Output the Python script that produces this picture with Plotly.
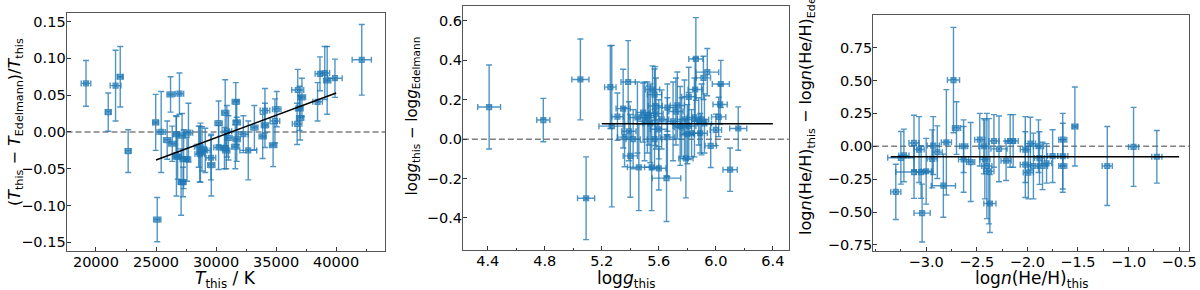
import plotly.graph_objects as go

# ---------------- Panel 1: Teff ----------------
teff_this = [19170, 21020, 21630, 22020, 22680, 24970, 25100, 25430, 25930, 26210,
             26350, 26680, 26700, 26950, 26800, 27090, 27250, 27300, 27580, 27170,
             27700, 28550, 28640, 28830, 28700, 29100, 29570, 29600, 30210, 30210,
             30700, 30760, 30900, 31030, 30850, 31640, 31720, 31720, 31600, 32270,
             32680, 33190, 33880, 34070, 34070, 34750, 34900, 35050, 36800, 36950,
             37000, 36750, 37150, 38450, 38650, 39050, 39250, 39900, 42130]
teff_rel_diff = [0.066, 0.027, 0.063, 0.075, -0.026, 0.013, -0.119, 0.000, -0.011, 0.051,
                 -0.016, -0.003, -0.033, 0.052, -0.034, -0.068, -0.068, -0.037, -0.037, -0.005,
                 -0.001, -0.020, -0.030, -0.023, -0.028, -0.025, -0.035, -0.045, 0.012, -0.021,
                 -0.022, 0.026, 0.001, -0.008, -0.025, 0.041, 0.013, -0.010, -0.020, -0.003,
                 -0.025, 0.006, -0.006, 0.029, 0.009, -0.018, 0.015, 0.031, 0.057, 0.032,
                 0.019, 0.011, 0.047, 0.041, 0.079, 0.080, 0.070, 0.073, 0.098]
teff_rel_err = [0.031, 0.026, 0.048, 0.041, 0.029, 0.038, 0.030, 0.055, 0.026, 0.024,
                0.024, 0.025, 0.054, 0.028, 0.030, 0.045, 0.020, 0.040, 0.030, 0.030,
                0.040, 0.028, 0.038, 0.030, 0.040, 0.030, 0.030, 0.042, 0.030, 0.030,
                0.028, 0.045, 0.035, 0.030, 0.025, 0.026, 0.030, 0.030, 0.030, 0.025,
                0.040, 0.030, 0.030, 0.030, 0.030, 0.029, 0.030, 0.024, 0.028, 0.030,
                0.030, 0.028, 0.026, 0.026, 0.023, 0.036, 0.046, 0.026, 0.048]
teff_err = [400, 250, 450, 250, 250, 250, 300, 350, 300, 300,
            300, 250, 300, 350, 300, 250, 250, 300, 300, 300,
            350, 350, 400, 350, 300, 400, 400, 300, 300, 400,
            300, 300, 400, 300, 300, 300, 300, 300, 300, 400,
            700, 300, 300, 400, 300, 300, 400, 350, 500, 300,
            300, 400, 300, 400, 400, 400, 300, 600, 800]
teff_fit_x = [25000, 40000]
teff_fit_y = [-0.038, 0.053]

# ---------------- Panel 2: log g ----------------
logg_this = [4.41, 4.79, 5.05, 5.09, 5.26, 5.27, 5.31, 5.35, 5.385, 5.39,
             5.36, 5.40, 5.46, 5.49, 5.52, 5.556, 5.55, 5.60, 5.57, 5.575,
             5.654, 5.73, 5.75, 5.79, 5.81, 5.81, 5.80, 5.855, 5.86, 5.913,
             5.94, 5.90, 5.964, 6.00, 6.02, 6.03, 6.035, 6.10, 6.157, 5.45,
             5.50, 5.53, 5.54, 5.58, 5.62, 5.66, 5.66, 5.70, 5.72, 5.76,
             5.78, 5.83, 5.85, 5.88, 5.89, 5.92, 5.57, 5.60, 5.42]
logg_diff = [0.163, 0.097, 0.303, -0.300, 0.264, 0.066, 0.114, 0.155, 0.290, 0.040,
             0.010, -0.085, -0.143, 0.135, 0.110, 0.252, -0.143, -0.148, 0.226, 0.168,
             -0.198, 0.171, 0.067, -0.098, 0.067, 0.215, 0.025, 0.252, 0.407, 0.311,
             0.340, 0.100, -0.034, 0.047, 0.113, 0.176, 0.280, -0.155, 0.054, 0.110,
             0.090, 0.120, 0.080, 0.130, 0.100, 0.160, 0.010, 0.090, 0.140, 0.060,
             0.100, 0.030, 0.110, 0.090, 0.030, 0.080, 0.000, 0.050, 0.000]
logg_diff_err = [0.213, 0.110, 0.205, 0.210, 0.210, 0.410, 0.120, 0.200, 0.210, 0.150,
                 0.150, 0.210, 0.220, 0.150, 0.180, 0.120, 0.220, 0.110, 0.130, 0.200,
                 0.220, 0.170, 0.200, 0.200, 0.170, 0.150, 0.150, 0.160, 0.210, 0.110,
                 0.120, 0.180, 0.110, 0.080, 0.100, 0.100, 0.120, 0.110, 0.110, 0.180,
                 0.200, 0.150, 0.200, 0.180, 0.150, 0.120, 0.200, 0.200, 0.170, 0.150,
                 0.200, 0.120, 0.200, 0.120, 0.100, 0.150, 0.150, 0.150, 0.150]
logg_err = [0.08, 0.046, 0.06, 0.06, 0.04, 0.09, 0.04, 0.05, 0.05, 0.05,
            0.05, 0.05, 0.08, 0.05, 0.05, 0.05, 0.05, 0.05, 0.05, 0.05,
            0.10, 0.05, 0.05, 0.05, 0.05, 0.05, 0.05, 0.05, 0.05, 0.05,
            0.08, 0.05, 0.04, 0.04, 0.05, 0.05, 0.06, 0.05, 0.06, 0.06,
            0.05, 0.05, 0.05, 0.05, 0.05, 0.06, 0.05, 0.05, 0.05, 0.05,
            0.05, 0.06, 0.05, 0.05, 0.05, 0.05, 0.05, 0.06, 0.05]
logg_fit_x = [5.2, 6.4]
logg_fit_y = [0.078, 0.078]

# ---------------- Panel 3: log n(He/H) ----------------
loghe_this = [-3.30, -3.25, -3.22, -3.12, -3.12, -3.07, -3.05, -3.04, -3.00, -2.94,
              -2.93, -2.89, -2.83, -2.80, -2.73, -2.70, -2.63, -2.63, -2.56, -2.47,
              -2.43, -2.42, -2.40, -2.37, -2.38, -2.33, -2.28, -2.21, -2.17, -2.14,
              -2.02, -2.02, -1.99, -1.97, -1.94, -1.89, -1.88, -1.85, -1.81, -1.75,
              -1.65, -1.65, -1.65, -1.53, -1.21, -0.95, -0.72]
loghe_diff = [-0.347, -0.088, -0.070, 0.025, -0.196, -0.025, -0.196, -0.508, -0.190, -0.096,
              0.005, -0.045, -0.300, 0.030, 0.503, 0.138, 0.000, -0.100, -0.120, 0.050,
              0.000, -0.100, -0.150, -0.435, -0.190, 0.040, -0.020, -0.110, 0.040, 0.040,
              -0.025, -0.140, -0.200, 0.020, -0.150, 0.000, -0.090, -0.150, -0.130, -0.075,
              0.050, -0.075, -0.150, 0.150, -0.150, -0.005, -0.080]
loghe_diff_err = [0.21, 0.20, 0.20, 0.21, 0.20, 0.25, 0.20, 0.22, 0.25, 0.22,
                  0.22, 0.20, 0.24, 0.40, 0.40, 0.20, 0.20, 0.25, 0.30, 0.20,
                  0.21, 0.30, 0.40, 0.22, 0.40, 0.20, 0.25, 0.15, 0.20, 0.20,
                  0.25, 0.25, 0.20, 0.20, 0.25, 0.20, 0.20, 0.18, 0.15, 0.20,
                  0.20, 0.25, 0.20, 0.30, 0.30, 0.30, 0.20]
loghe_err = [0.05, 0.13, 0.05, 0.05, 0.18, 0.05, 0.05, 0.08, 0.05, 0.05,
             0.06, 0.05, 0.12, 0.05, 0.06, 0.04, 0.04, 0.05, 0.04, 0.05,
             0.05, 0.05, 0.05, 0.06, 0.05, 0.05, 0.08, 0.05, 0.05, 0.05,
             0.05, 0.05, 0.05, 0.05, 0.05, 0.05, 0.05, 0.05, 0.05, 0.05,
             0.04, 0.05, 0.04, 0.03, 0.05, 0.05, 0.05]
loghe_fit_x = [-3.35, -0.5]
loghe_fit_y = [-0.08, -0.08]

# tick values
teff_ticks = [20000, 25000, 30000, 35000, 40000]
dteff_ticks = [-0.15, -0.10, -0.05, 0.00, 0.05, 0.10, 0.15]
logg_ticks = [4.4, 4.8, 5.2, 5.6, 6.0, 6.4]
dlogg_ticks = [-0.4, -0.2, 0.0, 0.2, 0.4, 0.6]
loghe_ticks = [-3.0, -2.5, -2.0, -1.5, -1.0, -0.5]
dloghe_ticks = [-0.75, -0.50, -0.25, 0.00, 0.25, 0.50, 0.75]

# ---------------- Styling ----------------
BLUE = "rgba(31,119,180,0.78)"
FONT = "DejaVu Sans"
W, H = 1200, 290


def px_x(p):
    return p / W


def px_y(p):
    return 1 - p / H


def err_trace(x, y, ey, ex, xa, ya):
    return go.Scatter(
        x=x, y=y, mode="markers", xaxis=xa, yaxis=ya, showlegend=False,
        marker=dict(symbol="square-x-open", size=5, color=BLUE, line=dict(width=1.2, color=BLUE)),
        error_y=dict(type="data", array=ey, visible=True, color=BLUE, thickness=1.4, width=3),
        error_x=dict(type="data", array=ex, visible=True, color=BLUE, thickness=1.4, width=3),
    )


def fit_trace(x, y, xa, ya):
    return go.Scatter(x=x, y=y, mode="lines", xaxis=xa, yaxis=ya, showlegend=False,
                      line=dict(color="black", width=1.6))


fig = go.Figure()
fig.add_trace(err_trace(teff_this, teff_rel_diff, teff_rel_err, teff_err, "x", "y"))
fig.add_trace(fit_trace(teff_fit_x, teff_fit_y, "x", "y"))
fig.add_trace(err_trace(logg_this, logg_diff, logg_diff_err, logg_err, "x2", "y2"))
fig.add_trace(fit_trace(logg_fit_x, logg_fit_y, "x2", "y2"))
fig.add_trace(err_trace(loghe_this, loghe_diff, loghe_diff_err, loghe_err, "x3", "y3"))
fig.add_trace(fit_trace(loghe_fit_x, loghe_fit_y, "x3", "y3"))

axis_common = dict(
    showline=True, linecolor="#555555", linewidth=1, mirror=True,
    ticks="inside", ticklen=4, tickwidth=1, tickcolor="#333333",
    showgrid=False, zeroline=False, ticklabeloverflow="allow",
    tickfont=dict(family=FONT, size=14.5, color="black"),
)

panels = [
    dict(xd=(67, 388), yd=(13, 253), xr=[17550, 44100], yr=[-0.162, 0.1617],
         xt=teff_ticks, yt=dteff_ticks, xf="d", yf=".2f", xm=2500),
    dict(xd=(466, 794), yd=(6, 252), xr=[4.226, 6.511], yr=[-0.564, 0.676],
         xt=logg_ticks, yt=dlogg_ticks, xf=".1f", yf=".1f", xm=0.2),
    dict(xd=(879, 1197), yd=(15, 253), xr=[-3.524, -0.402], yr=[-0.798, 0.998],
         xt=loghe_ticks, yt=dloghe_ticks, xf=".1f", yf=".2f", xm=0.25),
]

layout = dict(
    width=W, height=H, margin=dict(l=0, r=0, t=0, b=0),
    paper_bgcolor="white", plot_bgcolor="white",
    font=dict(family=FONT, size=14, color="black"),
    showlegend=False,
)
shapes = []
for i, p in enumerate(panels):
    s = "" if i == 0 else str(i + 1)
    layout["xaxis" + s] = dict(
        axis_common, domain=[px_x(p["xd"][0]), px_x(p["xd"][1])], range=p["xr"],
        tickmode="array", tickvals=p["xt"], tickformat=p["xf"], anchor="y" + s,
        ticklabelstandoff=-3,
        minor=dict(ticks="inside", ticklen=2, dtick=p["xm"], tick0=0, tickcolor="#333333", showgrid=False),
    )
    layout["yaxis" + s] = dict(
        axis_common, domain=[px_y(p["yd"][1]), px_y(p["yd"][0])], range=p["yr"],
        tickmode="array", tickvals=p["yt"], tickformat=p["yf"], anchor="x" + s,
        ticklabelstandoff=-3,
    )
    shapes.append(dict(type="line", xref="x%s domain" % s, yref="y" + s, x0=0, x1=1, y0=0, y1=0,
                       line=dict(color="#808080", width=1.5, dash="6px,3px"), layer="below"))
layout["shapes"] = shapes

TF = dict(family=FONT, size=17, color="black")
TF1 = dict(family=FONT, size=16, color="black")
TF2 = dict(family=FONT, size=15, color="black")
annotations = [
    dict(text="<i>T</i><sub>this</sub> / K", x=px_x(227.5), y=px_y(281), xref="paper", yref="paper",
         showarrow=False, font=TF, xanchor="center", yanchor="middle"),
    dict(text="(<i>T</i><sub>this</sub> − <i>T</i><sub>Edelmann</sub>)/<i>T</i><sub>this</sub>",
         x=px_x(15), y=px_y(123), xref="paper", yref="paper", textangle=-90,
         showarrow=False, font=TF1, xanchor="center", yanchor="middle"),
    dict(text="log<i>g</i><sub>this</sub>", x=px_x(630), y=px_y(281), xref="paper", yref="paper",
         showarrow=False, font=TF, xanchor="center", yanchor="middle"),
    dict(text="log<i>g</i><sub>this</sub> − log<i>g</i><sub>Edelmann</sub>",
         x=px_x(415), y=px_y(117), xref="paper", yref="paper", textangle=-90,
         showarrow=False, font=TF2, xanchor="center", yanchor="middle"),
    dict(text="log<i>n</i>(He/H)<sub>this</sub>", x=px_x(1038), y=px_y(281), xref="paper", yref="paper",
         showarrow=False, font=TF, xanchor="center", yanchor="middle"),
    dict(text="log<i>n</i>(He/H)<sub>this</sub> − log<i>n</i>(He/H)<sub>Edelmann</sub>",
         x=px_x(812), y=px_y(99), xref="paper", yref="paper", textangle=-90,
         showarrow=False, font=TF1, xanchor="center", yanchor="middle"),
]
layout["annotations"] = annotations

fig.update_layout(**layout)
fig.write_html("out.html", config={"displayModeBar": False},
               post_script="document.body.style.margin='0';document.body.style.overflow='hidden';")
